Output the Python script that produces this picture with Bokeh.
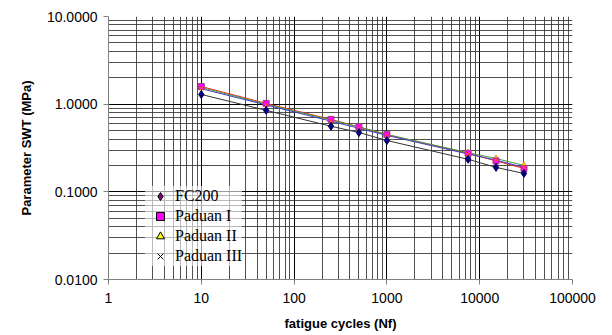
from bokeh.plotting import figure
from bokeh.models import FixedTicker, Legend, LegendItem, ColumnDataSource, CustomJSTickFormatter
from bokeh.embed import file_html
from bokeh.resources import INLINE

cycles = [10, 50, 250, 500, 1000, 7500, 15000, 30000]
fc200 = [1.29, 0.85, 0.56, 0.475, 0.385, 0.235, 0.19, 0.162]
paduan1 = [1.59, 1.02, 0.67, 0.55, 0.45, 0.275, 0.225, 0.185]
paduan2 = [1.55, 1.00, 0.66, 0.55, 0.45, 0.28, 0.24, 0.20]
paduan3 = [1.50, 0.98, 0.64, 0.53, 0.44, 0.27, 0.23, 0.19]

x_ticks = [1, 10, 100, 1000, 10000, 100000]
y_ticks = [0.01, 0.1, 1, 10]
x_minor = [m * d for d in [1, 10, 100, 1000, 10000] for m in range(2, 10)]
y_minor = [m * d for d in [0.01, 0.1, 1] for m in range(2, 10)]

p = figure(width=604, height=327, x_axis_type="log", y_axis_type="log",
           x_range=(1, 100000), y_range=(0.01, 10),
           output_backend="svg", toolbar_location=None,
           min_border_left=108, min_border_right=32, min_border_top=16, min_border_bottom=48)
p.frame_width = 464
p.frame_height = 263
p.outline_line_color = None
p.background_fill_color = "white"

p.xaxis.ticker = FixedTicker(ticks=x_ticks, minor_ticks=x_minor)
p.yaxis.ticker = FixedTicker(ticks=y_ticks, minor_ticks=y_minor)
p.yaxis.formatter = CustomJSTickFormatter(code="return tick.toFixed(4);")
p.xaxis.formatter = CustomJSTickFormatter(code="return Math.round(tick).toString();")

for ax in (p.xaxis, p.yaxis):
    ax.axis_line_color = "#808080"
    ax.major_tick_line_color = "#808080"
    ax.major_tick_out = 5
    ax.major_tick_in = 0
    ax.minor_tick_line_color = None
    ax.major_label_text_font = "Liberation Sans"
    ax.major_label_text_font_size = "14px"
    ax.major_label_text_color = "black"
    ax.axis_label_text_font = "Liberation Sans"
    ax.axis_label_text_font_size = "13px"
    ax.axis_label_text_font_style = "bold"
    ax.axis_label_text_color = "black"

p.xaxis.axis_label = "fatigue cycles (Nf)"
p.yaxis.axis_label = "Parameter SWT (MPa)"
p.xaxis.major_label_standoff = 8
p.xaxis.axis_label_standoff = 10
p.yaxis.major_label_standoff = 6
p.yaxis.axis_label_standoff = 10

for g in (p.xgrid, p.ygrid):
    g.grid_line_color = "black"
    g.grid_line_width = 1
    g.minor_grid_line_color = "#333333"
    g.minor_grid_line_alpha = 0.85

p.line(cycles, fc200, line_color="#333333", line_width=1)
p.line(cycles, paduan1, line_color="#ff2020", line_width=1)
p.line(cycles, paduan2, line_color="#40a040", line_width=1)
p.line(cycles, paduan3, line_color="#4040c0", line_width=1)

p.scatter(cycles, paduan2, marker="triangle", size=6, fill_color="#ffff00", line_color="#ff8000")
p.scatter(cycles, paduan1, marker="square", size=6, fill_color="#ff00ff", line_color="#a04080")
p.scatter(cycles, paduan3, marker="x", size=5, line_color="#ff6000")
p.scatter(cycles, fc200, marker="diamond", size=8, fill_color="#000080", line_color="#000060")

# legend-only glyphs (placed outside the visible range)
off = dict(x=[0.01], y=[0.0001])
l1 = p.scatter("x", "y", source=ColumnDataSource(off), marker="diamond", size=15,
               fill_color="#800080", line_color="black")
l2 = p.scatter("x", "y", source=ColumnDataSource(off), marker="square", size=11,
               fill_color="#ff00ff", line_color="black")
l3 = p.scatter("x", "y", source=ColumnDataSource(off), marker="triangle", size=13,
               fill_color="#ffff00", line_color="black")
l4 = p.scatter("x", "y", source=ColumnDataSource(off), marker="x", size=12,
               line_color="black")

legend = Legend(items=[LegendItem(label="FC200", renderers=[l1]),
                       LegendItem(label="Paduan I", renderers=[l2]),
                       LegendItem(label="Paduan II", renderers=[l3]),
                       LegendItem(label="Paduan III", renderers=[l4])],
                location=(37, 13))
legend.label_text_font = "Liberation Serif"
legend.label_text_font_size = "16px"
legend.label_text_color = "black"
legend.glyph_width = 30
legend.glyph_height = 20
legend.label_height = 20
legend.spacing = 0
legend.padding = 4
legend.label_standoff = 0
legend.border_line_color = None
legend.background_fill_color = "white"
legend.background_fill_alpha = 0.6
p.add_layout(legend, "center")

open("out.html", "w").write(file_html(p, INLINE))
